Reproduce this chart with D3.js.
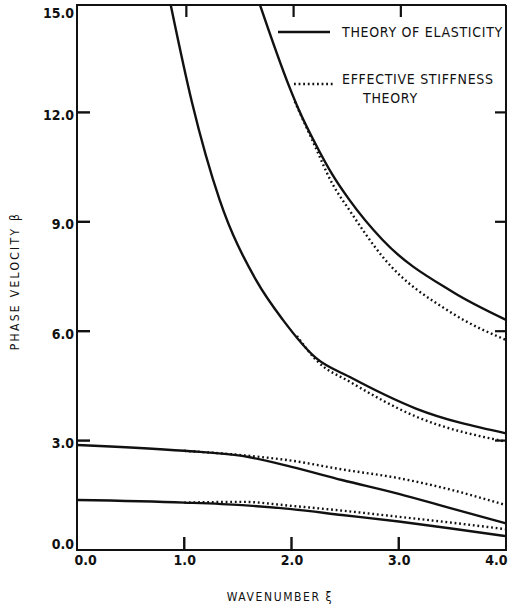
<!DOCTYPE html>
<html>
<head>
<meta charset="utf-8">
<script src="https://cdn.jsdelivr.net/npm/d3@7"></script>
<style>
  body { margin: 0; background: #fff; }
  text { font-family: "DejaVu Sans Condensed", "DejaVu Sans", sans-serif; fill: #111; }
</style>
</head>
<body>
<svg id="chart" width="508" height="610"></svg>
<script>
// readings: wavenumber (x) and phase velocity (y) per curve
// theory of elasticity (solid)
const mode1ElasticX = [0.0, 1.0, 1.54, 2.0, 2.47, 3.0, 3.49, 4.0];
const mode1ElasticY = [1.37, 1.30, 1.23, 1.12, 0.96, 0.78, 0.59, 0.38];
const mode2ElasticX = [0.0, 1.0, 1.54, 2.0, 2.47, 3.0, 3.49, 4.0];
const mode2ElasticY = [2.88, 2.72, 2.58, 2.28, 1.92, 1.54, 1.14, 0.73];
const mode3ElasticX = [0.87, 1.07, 1.33, 1.67, 1.92, 2.23, 2.54, 3.16, 4.0];
const mode3ElasticY = [15.0, 12.3, 9.6, 7.4, 6.31, 5.26, 4.75, 3.88, 3.2];
const mode4ElasticX = [1.70, 1.98, 2.07, 2.23, 2.38, 2.54, 2.85, 3.5, 4.0];
const mode4ElasticY = [15.0, 12.7, 12.06, 11.1, 10.3, 9.6, 8.5, 7.08, 6.31];

// effective stiffness theory (dotted)
const mode1StiffX = [1.0, 1.54, 2.0, 2.47, 3.0, 3.49, 4.0];
const mode1StiffY = [1.30, 1.32, 1.21, 1.08, 0.91, 0.75, 0.57];
const mode2StiffX = [1.0, 1.54, 2.0, 2.47, 3.0, 3.49, 4.0];
const mode2StiffY = [2.72, 2.60, 2.45, 2.21, 1.97, 1.65, 1.23];
const mode3StiffX = [2.05, 2.25, 2.54, 3.16, 4.0];
const mode3StiffY = [5.87, 5.15, 4.62, 3.66, 2.97];
const mode4StiffX = [2.03, 2.2, 2.38, 2.54, 2.85, 3.5, 4.0];
const mode4StiffY = [12.3, 11.2, 10.05, 9.32, 8.04, 6.49, 5.76];

const xTicks = [0, 1, 2, 3, 4];
const yTicks = [0, 3, 6, 9, 12, 15];
const topTicks = [1, 2, 3];
const rightTicks = [3, 6, 9, 12];
const legendLabels = ["THEORY OF ELASTICITY", "EFFECTIVE STIFFNESS", "THEORY"];

function pairs(xs, ys) { return xs.map((x, i) => ({x: x, y: ys[i]})); }

const series = [
  {pts: pairs(mode1ElasticX, mode1ElasticY), dotted: false},
  {pts: pairs(mode2ElasticX, mode2ElasticY), dotted: false},
  {pts: pairs(mode3ElasticX, mode3ElasticY), dotted: false},
  {pts: pairs(mode4ElasticX, mode4ElasticY), dotted: false},
  {pts: pairs(mode1StiffX, mode1StiffY), dotted: true},
  {pts: pairs(mode2StiffX, mode2StiffY), dotted: true},
  {pts: pairs(mode3StiffX, mode3StiffY), dotted: true},
  {pts: pairs(mode4StiffX, mode4StiffY), dotted: true}
];

const svg = d3.select("#chart");
const plotLeft = 77, plotRight = 506, plotTop = 3, plotBottom = 550, frameTop = 5;

const x = d3.scaleLinear().domain([0, 4]).range([plotLeft, plotRight]);
const y = d3.scaleLinear().domain([0, 15]).range([plotBottom, plotTop]);

// clip so curves stop at the frame
svg.append("clipPath").attr("id", "plot")
  .append("rect")
    .attr("x", plotLeft).attr("y", frameTop)
    .attr("width", plotRight - plotLeft + 2).attr("height", plotBottom - frameTop);

// Curves _____________________________________
const line = d3.line()
    .x(d => x(d.x))
    .y(d => y(d.y))
    .curve(d3.curveMonotoneX);

svg.append("g")
    .attr("clip-path", "url(#plot)")
  .selectAll("path")
  .data(series)
  .join("path")
    .attr("d", d => line(d.pts))
    .attr("fill", "none")
    .attr("stroke", "#111")
    .attr("stroke-width", 2.4)
    .attr("stroke-dasharray", d => d.dotted ? "1.8,2.8" : null);

// Axes (labels only, ticks drawn below) _____________________________________
const xAxis = svg.append("g")
    .attr("transform", `translate(0,${plotBottom})`)
    .call(d3.axisBottom(x).tickValues(xTicks).tickSize(0)
      .tickPadding(5).tickFormat(d3.format(".1f")));

xAxis.selectAll("text")
    .style("font-size", "14px")
    .style("font-weight", "bold")
    .attr("text-anchor", (d, i) => i === 0 ? "start" : (i === xTicks.length - 1 ? "end" : "middle"))
    .attr("dx", (d, i) => i === 0 ? "-3" : (i === xTicks.length - 1 ? "1" : "0"));

const yAxis = svg.append("g")
    .attr("transform", `translate(${plotLeft},0)`)
    .call(d3.axisLeft(y).tickValues(yTicks).tickSize(0)
      .tickPadding(3).tickFormat(d3.format(".1f")));

yAxis.selectAll("text")
    .style("font-size", "14px")
    .style("font-weight", "bold")
    .attr("dy", d => d === 0 ? "-0.1em" : (d === 15 ? "1em" : "0.5em"));

svg.selectAll(".domain").remove();

// Frame _____________________________________
svg.append("path")
    .attr("d", `M${plotRight},${frameTop}H${plotLeft}V${plotBottom}H${plotRight}V${frameTop}`)
    .attr("fill", "none")
    .attr("stroke", "#111")
    .attr("stroke-width", 2);

// Tick marks (inward) _____________________________________
svg.selectAll("rect.xb")
  .data(xTicks.slice(1, -1))
  .join("rect")
    .attr("class", "xb")
    .attr("x", d => x(d) - 1.2).attr("y", plotBottom - 13)
    .attr("width", 2.4).attr("height", 13)
    .attr("fill", "#111");

svg.selectAll("rect.xt")
  .data(topTicks)
  .join("rect")
    .attr("class", "xt")
    .attr("x", d => x(d) + 1).attr("y", frameTop)
    .attr("width", 2.2).attr("height", 12)
    .attr("fill", "#111");

svg.selectAll("rect.yl")
  .data(yTicks.slice(1, -1))
  .join("rect")
    .attr("class", "yl")
    .attr("x", plotLeft).attr("y", d => y(d) - 1.2)
    .attr("width", 13).attr("height", 2.4)
    .attr("fill", "#111");

svg.selectAll("rect.yr")
  .data(rightTicks)
  .join("rect")
    .attr("class", "yr")
    .attr("x", plotRight - 11).attr("y", d => y(d) - 1.1)
    .attr("width", 11).attr("height", 2.2)
    .attr("fill", "#111");

// Titles _____________________________________
svg.append("text")
    .text("WAVENUMBER ξ")
    .attr("x", 280)
    .attr("y", 601)
    .attr("text-anchor", "middle")
    .style("font-size", "12px")
    .style("letter-spacing", "1.6px");

svg.append("text")
    .text("PHASE VELOCITY β")
    .attr("transform", "translate(19,281) rotate(-90)")
    .attr("text-anchor", "middle")
    .style("font-size", "12px")
    .style("letter-spacing", "2.3px");

// Legend _____________________________________
svg.append("line")
    .attr("x1", 278).attr("x2", 330)
    .attr("y1", 32).attr("y2", 32)
    .attr("stroke", "#111").attr("stroke-width", 2.4);

svg.append("line")
    .attr("x1", 294).attr("x2", 334)
    .attr("y1", 84).attr("y2", 84)
    .attr("stroke", "#111").attr("stroke-width", 2.4)
    .attr("stroke-dasharray", "1.8,2.8");

svg.append("text").text(legendLabels[0])
    .attr("x", 342).attr("y", 37)
    .style("font-size", "14px").style("letter-spacing", "0.7px");

svg.append("text").text(legendLabels[1])
    .attr("x", 342).attr("y", 84)
    .style("font-size", "14px").style("letter-spacing", "0.7px");

svg.append("text").text(legendLabels[2])
    .attr("x", 363).attr("y", 103)
    .style("font-size", "14px").style("letter-spacing", "0.7px");
</script>
</body>
</html>
